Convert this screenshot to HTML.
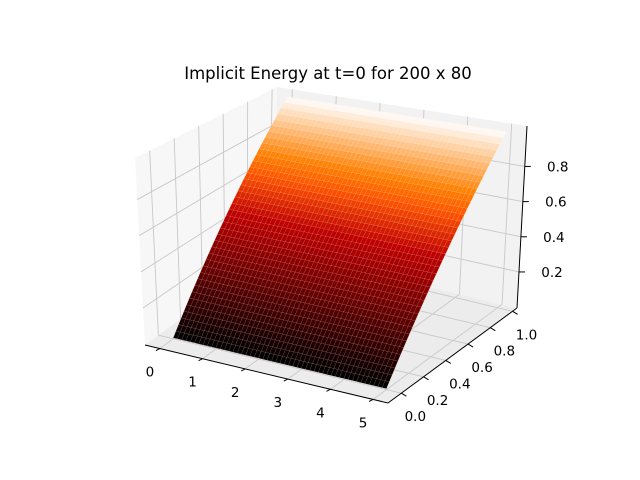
<!DOCTYPE html>
<html><head><meta charset="utf-8"><style>
body{margin:0;background:#fff}
svg{display:block}
text{font-family:"DejaVu Sans","Liberation Sans",sans-serif;fill:#000}
</style></head><body>
<svg id="chart" width="640" height="480" viewBox="0 0 640 480">
<rect width="640" height="480" fill="#fff"/>
<text x="328" y="79" text-anchor="middle" font-size="16.5">Implicit Energy at t=0 for 200 x 80</text>
<g id="panes"></g><g id="grid"></g><g id="surface"></g><g id="axes"></g>
</svg>
<script>
const xTicks=[0,1,2,3,4,5];
const yTicks=[0.0,0.2,0.4,0.6,0.8,1.0];
const yTickLabels=["0.0","0.2","0.4","0.6","0.8","1.0"];
const zTicks=[0.2,0.4,0.6,0.8];
const zTickLabels=["0.2","0.4","0.6","0.8"];
const xGrid=[0,0.1,0.2,0.3,0.4,0.5,0.6,0.7,0.8,0.9,1,1.1,1.2,1.3,1.4,1.5,1.6,1.7,1.8,1.9,2,2.1,2.2,2.3,2.4,2.5,2.6,2.7,2.8,2.9,3,3.1,3.2,3.3,3.4,3.5,3.6,3.7,3.8,3.9,4,4.1,4.2,4.3,4.4,4.5,4.6,4.7,4.8,4.9,5];
const yGrid=[0,0.026,0.051,0.077,0.103,0.128,0.154,0.179,0.205,0.231,0.256,0.282,0.308,0.333,0.359,0.385,0.41,0.436,0.462,0.487,0.513,0.538,0.564,0.59,0.615,0.641,0.667,0.692,0.718,0.744,0.769,0.795,0.821,0.846,0.872,0.897,0.923,0.949,0.974,1];
const energy=[0,0.026,0.051,0.077,0.103,0.128,0.154,0.179,0.205,0.231,0.256,0.282,0.308,0.333,0.359,0.385,0.41,0.436,0.462,0.487,0.513,0.538,0.564,0.59,0.615,0.641,0.667,0.692,0.718,0.744,0.769,0.795,0.821,0.846,0.872,0.897,0.923,0.949,0.974,1];

const XR=[-0.35,5.35],YR=[-0.12,1.04],ZR=[-0.005,1.03];
const C={ '000':[145,345],'100':[388,403],'010':[274,250],'110':[517,308],
          '001':[135,158],'101':[386,208],'011':[277,87],'111':[527,126]};
function lerp(a,b,t){return [a[0]+(b[0]-a[0])*t,a[1]+(b[1]-a[1])*t];}
function proj(x,y,z){
  const u=(x-XR[0])/(XR[1]-XR[0]),v=(y-YR[0])/(YR[1]-YR[0]),w=(z-ZR[0])/(ZR[1]-ZR[0]);
  const b=lerp(lerp(C['000'],C['100'],u),lerp(C['010'],C['110'],u),v);
  const t=lerp(lerp(C['001'],C['101'],u),lerp(C['011'],C['111'],u),v);
  return lerp(b,t,w);
}
const NS='http://www.w3.org/2000/svg';
function mk(tag,attrs,parent){const e=document.createElementNS(NS,tag);for(const k in attrs)e.setAttribute(k,attrs[k]);parent.appendChild(e);return e;}
function pts(a){return a.map(p=>p[0].toFixed(2)+','+p[1].toFixed(2)).join(' ');}
const panes=document.getElementById('panes'),grid=document.getElementById('grid'),surf=document.getElementById('surface'),axes=document.getElementById('axes');
let e;
e=mk('polygon',{points:pts([proj(XR[0],YR[0],ZR[0]),proj(XR[1],YR[0],ZR[0]),proj(XR[1],YR[1],ZR[0]),proj(XR[0],YR[1],ZR[0])]),fill:'#ececec'},panes);


e=mk('polygon',{points:pts([proj(XR[0],YR[0],ZR[0]),proj(XR[0],YR[1],ZR[0]),proj(XR[0],YR[1],ZR[1]),proj(XR[0],YR[0],ZR[1])]),fill:'#f7f7f7'},panes);


e=mk('polygon',{points:pts([proj(XR[0],YR[1],ZR[0]),proj(XR[1],YR[1],ZR[0]),proj(XR[1],YR[1],ZR[1]),proj(XR[0],YR[1],ZR[1])]),fill:'#f2f2f2'},panes);


function gl(a,b,name){const p=proj(...a),q=proj(...b);const l=mk('line',{x1:p[0],y1:p[1],x2:q[0],y2:q[1],stroke:'#c8c8c8','stroke-width':0.9},grid);}
xTicks.forEach(x=>{gl([x,YR[0],ZR[0]],[x,YR[1],ZR[0]],'x-gridline-floor');gl([x,YR[1],ZR[0]],[x,YR[1],ZR[1]],'x-gridline-back');});
yTicks.forEach(y=>{gl([XR[0],y,ZR[0]],[XR[1],y,ZR[0]],'y-gridline-floor');gl([XR[0],y,ZR[0]],[XR[0],y,ZR[1]],'y-gridline-left');});
zTicks.forEach(z=>{gl([XR[0],YR[0],z],[XR[0],YR[1],z],'z-gridline-left');gl([XR[0],YR[1],z],[XR[1],YR[1],z],'z-gridline-back');});
function heat(v){const r=Math.min(1,1.5*v),g=Math.max(0,Math.min(1,2*v-1)),b=Math.max(0,Math.min(1,4*v-3));return 'rgb('+Math.round(r*255)+','+Math.round(g*255)+','+Math.round(b*255)+')';}
for(let j=yGrid.length-2;j>=0;j--){
  const cv=(energy[j]+energy[j+1])/2;
  const col=heat(cv);
  for(let i=0;i<xGrid.length-1;i++){
    const poly=mk('polygon',{points:pts([proj(xGrid[i],yGrid[j],energy[j]),proj(xGrid[i+1],yGrid[j],energy[j]),proj(xGrid[i+1],yGrid[j+1],energy[j+1]),proj(xGrid[i],yGrid[j+1],energy[j+1])]),fill:col,stroke:'rgba(255,255,255,0.13)','stroke-width':0.5},surf);
    
    
  }
}
function al(a,b,name){const p=proj(...a),q=proj(...b);const l=mk('line',{x1:p[0],y1:p[1],x2:q[0],y2:q[1],stroke:'#000','stroke-width':1},axes);}
al([XR[0],YR[0],ZR[0]],[XR[1],YR[0],ZR[0]],'x-axis-line');
al([XR[1],YR[0],ZR[0]],[XR[1],YR[1],ZR[0]],'y-axis-line');
al([XR[1],YR[1],ZR[0]],[XR[1],YR[1],ZR[1]],'z-axis-line');
function tk(p,dx,dy,name){const l=mk('line',{x1:p[0],y1:p[1],x2:p[0]+dx,y2:p[1]+dy,stroke:'#000','stroke-width':1},axes);}
function lbl(p,s,name){const t=mk('text',{x:p[0],y:p[1],'text-anchor':'middle','font-size':13.5},axes);t.textContent=s;}
xTicks.forEach(x=>{const p=proj(x,YR[0],ZR[0]);tk(p,-4,2,'x-tick');lbl([p[0]-10,p[1]+28],String(x),'x-tick-label');});
yTicks.forEach((y,i)=>{const p=proj(XR[1],y,ZR[0]);tk(p,5,3,'y-tick');lbl([p[0]+14,p[1]+28],yTickLabels[i],'y-tick-label');});
zTicks.forEach((z,i)=>{const p=proj(XR[1],YR[1],z);tk(p,6,0,'z-tick');lbl([p[0]+33,p[1]+5],zTickLabels[i],'z-tick-label');});
</script>
</body></html>
